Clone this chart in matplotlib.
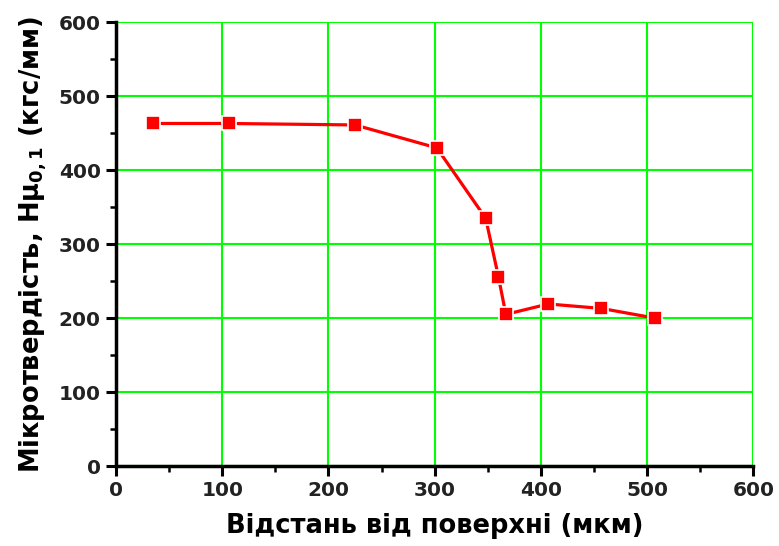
import matplotlib.pyplot as plt
from matplotlib.ticker import MultipleLocator

# distance from surface (um) vs microhardness
distance = [35, 106, 225, 302, 348, 360, 367, 407, 457, 507]
hardness = [463, 463, 461, 430, 335, 256, 205, 219, 213, 200]

plt.rcParams['font.family'] = ['DejaVu Sans']
plt.rcParams['font.weight'] = 'bold'
plt.rcParams['mathtext.fontset'] = 'custom'
plt.rcParams['mathtext.rm'] = 'DejaVu Sans:bold'
plt.rcParams['mathtext.it'] = 'DejaVu Sans:bold'
plt.rcParams['mathtext.bf'] = 'DejaVu Sans:bold'

fig = plt.figure(figsize=(7.79, 5.46), dpi=100)
ax = fig.add_axes([0.149, 0.1465, 0.818, 0.813])

ax.plot(distance, hardness, color='#ff0000', lw=2.3, marker='s', ms=10,
        mfc='#ff0000', mec='white', mew=1.2, zorder=3)

ax.set_xlim(0, 600)
ax.set_ylim(0, 600)
ax.xaxis.set_major_locator(MultipleLocator(100))
ax.yaxis.set_major_locator(MultipleLocator(100))
ax.xaxis.set_minor_locator(MultipleLocator(50))
ax.yaxis.set_minor_locator(MultipleLocator(50))
ax.grid(True, which='major', color='#00ff00', lw=1.5)
ax.set_axisbelow(True)

for s in ['top', 'right']:
    ax.spines[s].set_visible(False)
for s in ['left', 'bottom']:
    ax.spines[s].set_linewidth(2.5)

ax.tick_params(which='major', direction='out', length=7, width=2.2, labelsize=14.5,
               pad=4, labelcolor='#222222')
ax.tick_params(which='minor', direction='out', length=4, width=1.8)

ax.set_xlabel('Відстань від поверхні (мкм)', fontsize=18.5, fontweight='bold', labelpad=9)
ax.set_ylabel('Мікротвердість, Hμ$_{0,1}$ (кгс/мм)', fontsize=18.5, fontweight='bold', labelpad=7)

fig.savefig('out.png', dpi=100)
